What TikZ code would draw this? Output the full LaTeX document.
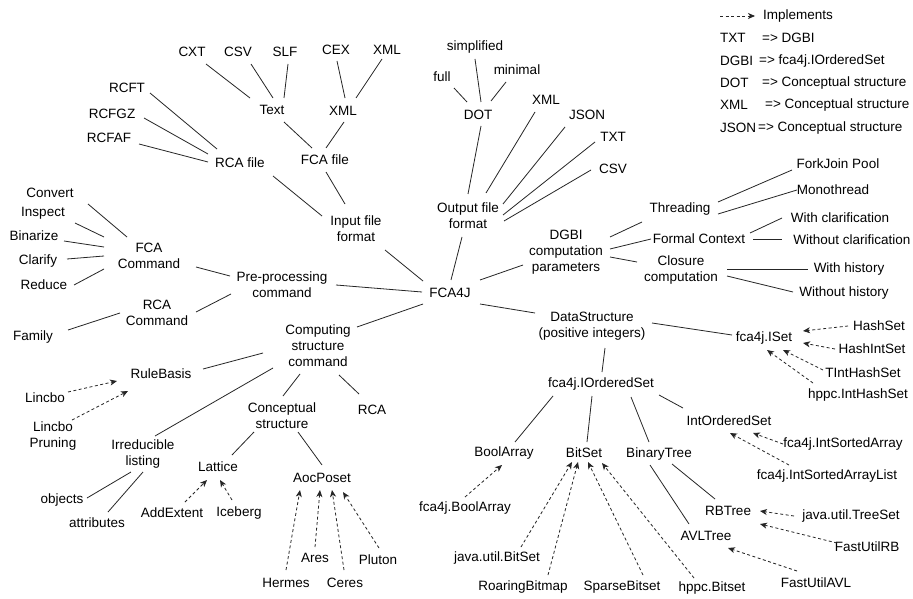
\documentclass[tikz,border=0pt]{standalone}
\usepackage{fontspec}
\setmainfont{Liberation Sans}
\usetikzlibrary{arrows.meta}
\begin{document}
\begin{tikzpicture}[x=1pt,y=-1pt,
  lbl/.style={font=\fontsize{13.5}{16}\selectfont, inner sep=1pt, align=center, text=black},
  ln/.style={line width=0.8pt, draw=black!85},
  impl/.style={line width=0.8pt, draw=black!85, dash pattern=on 3pt off 2.5pt, -{Stealth[length=7pt,width=6pt,inset=2pt]}}]
\useasboundingbox[fill=white] (0,0) rectangle (913,599);

% ---------- legend ----------
\coordinate (legA) at (720,16);
\node[lbl,anchor=west] (legimpl) at (762,16) {Implements};
\node[lbl,anchor=west] (lg1a) at (719,38) {TXT};
\node[lbl,anchor=west] (lg1b) at (761,38) {=> DGBI};
\node[lbl,anchor=west] (lg2a) at (719,61) {DGBI};
\node[lbl,anchor=west] (lg2b) at (758,61) {=> fca4j.IOrderedSet};
\node[lbl,anchor=west] (lg3a) at (719,83) {DOT};
\node[lbl,anchor=west] (lg3b) at (761,83) {=> Conceptual structure};
\node[lbl,anchor=west] (lg4a) at (719,105) {XML};
\node[lbl,anchor=west] (lg4b) at (764,105) {=> Conceptual structure};
\node[lbl,anchor=west] (lg5a) at (719,128) {JSON};
\node[lbl,anchor=west] (lg5b) at (757,128) {=> Conceptual structure};
\draw[impl] (legA) -- ([xshift=-7pt]legimpl.west);

% ---------- input side ----------
\node[lbl] (cxt) at (192,52) {CXT};
\node[lbl] (csv) at (238,52) {CSV};
\node[lbl] (slf) at (285,52) {SLF};
\node[lbl] (cex) at (336,50) {CEX};
\node[lbl] (xmlin) at (387,50) {XML};
\node[lbl] (text) at (272,110) {Text};
\node[lbl] (xmlmid) at (343,111) {XML};
\node[lbl] (rcft) at (127,88) {RCFT};
\node[lbl] (rcfgz) at (112,114) {RCFGZ};
\node[lbl] (rcfaf) at (109,138) {RCFAF};
\node[lbl] (rcafile) at (240,163) {RCA file};
\node[lbl] (fcafile) at (325,160) {FCA file};
\node[lbl] (input) at (356,229) {Input file\\format};

% ---------- output side ----------
\node[lbl] (simplified) at (475,47) {simplified};
\node[lbl] (full) at (442,77) {full};
\node[lbl] (minimal) at (517,70) {minimal};
\node[lbl] (dot) at (478,115) {DOT};
\node[lbl] (xmlout) at (546,100) {XML};
\node[lbl] (json) at (587,115) {JSON};
\node[lbl] (txt) at (613,137) {TXT};
\node[lbl] (csvout) at (613,169) {CSV};
\node[lbl] (output) at (468,216) {Output file\\format};

\node[lbl] (fca4j) at (450,293) {FCA4J};

% ---------- DGBI parameters ----------
\node[lbl] (dgbi) at (566,252) {DGBI\\computation\\parameters};
\node[lbl] (threading) at (680,209) {Threading};
\node[lbl] (formal) at (699,239) {Formal Context};
\node[lbl] (closure) at (681,270) {Closure\\computation};
\node[lbl] (forkjoin) at (838,164) {ForkJoin Pool};
\node[lbl] (mono) at (833,190) {Monothread};
\node[lbl] (withclar) at (840,218) {With clarification};
\node[lbl] (withoutclar) at (852,240) {Without clarification};
\node[lbl] (withhist) at (849,269) {With history};
\node[lbl] (withouthist) at (844,293) {Without history};

% ---------- data structures ----------
\node[lbl] (datastruct) at (592,326) {DataStructure\\(positive integers)};
\node[lbl] (iset) at (764,338) {fca4j.ISet};
\node[lbl] (hashset) at (879,326) {HashSet};
\node[lbl] (hashintset) at (872,349) {HashIntSet};
\node[lbl] (tint) at (863,373) {TIntHashSet};
\node[lbl] (hppcint) at (858,395) {hppc.IntHashSet};
\node[lbl] (iordered) at (601,384) {fca4j.IOrderedSet};
\node[lbl] (intordered) at (729,421) {IntOrderedSet};
\node[lbl] (intsorted) at (843,444) {fca4j.IntSortedArray};
\node[lbl] (intsortedlist) at (827,476) {fca4j.IntSortedArrayList};
\node[lbl] (boolarr) at (504,453) {BoolArray};
\node[lbl] (bitset) at (584,453) {BitSet};
\node[lbl] (binarytree) at (659,454) {BinaryTree};
\node[lbl] (rbtree) at (728,511) {RBTree};
\node[lbl] (treeset) at (851,516) {java.util.TreeSet};
\node[lbl] (fastrb) at (867,547) {FastUtilRB};
\node[lbl] (avl) at (706,536) {AVLTree};
\node[lbl] (fastavl) at (816,583) {FastUtilAVL};
\node[lbl] (fca4jbool) at (465,508) {fca4j.BoolArray};
\node[lbl] (javabitset) at (497,558) {java.util.BitSet};
\node[lbl] (roaring) at (523,587) {RoaringBitmap};
\node[lbl] (sparse) at (622,587) {SparseBitset};
\node[lbl] (hppcbitset) at (712,588) {hppc.Bitset};

% ---------- pre-processing ----------
\node[lbl] (convert) at (50,193) {Convert};
\node[lbl] (inspect) at (43,213) {Inspect};
\node[lbl] (binarize) at (34,236) {Binarize};
\node[lbl] (clarify) at (38,261) {Clarify};
\node[lbl] (reduce) at (44,285) {Reduce};
\node[lbl] (fcacmd) at (149,256) {FCA\\Command};
\node[lbl] (preproc) at (282,285) {Pre-processing\\command};
\node[lbl] (rcacmd) at (157,313) {RCA\\Command};
\node[lbl] (family) at (33,337) {Family};

% ---------- computing ----------
\node[lbl] (computing) at (318,346) {Computing\\structure\\command};
\node[lbl] (rulebasis) at (161,374) {RuleBasis};
\node[lbl] (lincbo) at (45,398) {Lincbo};
\node[lbl] (lincbopr) at (53,436) {Lincbo\\Pruning};
\node[lbl] (irreducible) at (143,454) {Irreducible\\listing};
\node[lbl] (conceptual) at (282,416) {Conceptual\\structure};
\node[lbl] (rca) at (372,410) {RCA};
\node[lbl] (lattice) at (218,467) {Lattice};
\node[lbl] (aocposet) at (322,478) {AocPoset};
\node[lbl] (objects) at (62,500) {objects};
\node[lbl] (attributes) at (97,523) {attributes};
\node[lbl] (addextent) at (172,513) {AddExtent};
\node[lbl] (iceberg) at (239,513) {Iceberg};
\node[lbl] (hermes) at (286,583) {Hermes};
\node[lbl] (ares) at (315,558) {Ares};
\node[lbl] (ceres) at (345,583) {Ceres};
\node[lbl] (pluton) at (378,560) {Pluton};

% ---------- solid connectors ----------
\draw[ln] ([shift={(14,12)}]cxt.center) -- ([shift={(-22,-12)}]text.center);
\draw[ln] ([shift={(13,12)}]csv.center) -- ([shift={(1,-12)}]text.center);
\draw[ln] ([shift={(3,12)}]slf.center) -- ([shift={(12,-12)}]text.center);
\draw[ln] ([shift={(1,11)}]cex.center) -- ([shift={(2,-13)}]xmlmid.center);
\draw[ln] ([shift={(-5,9)}]xmlin.center) -- ([shift={(13,-13)}]xmlmid.center);
\draw[ln] ([shift={(12,12)}]text.center) -- ([shift={(-13,-12)}]fcafile.center);
\draw[ln] ([shift={(1,11)}]xmlmid.center) -- ([shift={(1,-12)}]fcafile.center);
\draw[ln] ([shift={(23,5)}]rcft.center) -- ([shift={(-23,-14)}]rcafile.center);
\draw[ln] ([shift={(32,4)}]rcfgz.center) -- ([shift={(-32,-9)}]rcafile.center);
\draw[ln] ([shift={(30,6)}]rcfaf.center) -- ([shift={(-32,-1)}]rcafile.center);
\draw[ln] ([shift={(33,13)}]rcafile.center) -- ([shift={(-34,-13)}]input.center);
\draw[ln] ([shift={(1,12)}]fcafile.center) -- ([shift={(-11,-25)}]input.center);
\draw[ln] ([shift={(29,21)}]input.center) -- ([shift={(-27,-12)}]fca4j.center);

\draw[ln] ([shift={(12,11)}]full.center) -- ([shift={(-11,-13)}]dot.center);
\draw[ln] ([shift={(0,12)}]simplified.center) -- ([shift={(3,-13)}]dot.center);
\draw[ln] ([shift={(-11,12)}]minimal.center) -- ([shift={(13,-14)}]dot.center);
\draw[ln] ([shift={(3,11)}]dot.center) -- ([shift={(0,-22)}]output.center);
\draw[ln] ([shift={(-11,12)}]xmlout.center) -- ([shift={(18,-23)}]output.center);
\draw[ln] ([shift={(-22,12)}]json.center) -- ([shift={(35,-12)}]output.center);
\draw[ln] ([shift={(-18,5)}]txt.center) -- ([shift={(35,-1)}]output.center);
\draw[ln] ([shift={(-22,1)}]csvout.center) -- ([shift={(36,5)}]output.center);
\draw[ln] ([shift={(-6,21)}]output.center) -- ([shift={(1,-13)}]fca4j.center);

\draw[ln] ([shift={(-43,13)}]dgbi.center) -- ([shift={(30,-13)}]fca4j.center);
\draw[ln] ([shift={(54,0)}]preproc.center) -- ([shift={(-28,-1)}]fca4j.center);
\draw[ln] ([shift={(-27,11)}]fca4j.center) -- ([shift={(39,-19)}]computing.center);
\draw[ln] ([shift={(30,11)}]fca4j.center) -- ([shift={(-57,-13)}]datastruct.center);

\draw[ln] ([shift={(44,-15)}]dgbi.center) -- ([shift={(-38,13)}]threading.center);
\draw[ln] ([shift={(44,-3)}]dgbi.center) -- ([shift={(-48,0)}]formal.center);
\draw[ln] ([shift={(44,5)}]dgbi.center) -- ([shift={(-44,-8)}]closure.center);
\draw[ln] ([shift={(38,-7)}]threading.center) -- ([shift={(-46,6)}]forkjoin.center);
\draw[ln] ([shift={(38,5)}]threading.center) -- ([shift={(-36,0)}]mono.center);
\draw[ln] ([shift={(51,-6)}]formal.center) -- ([shift={(-58,0)}]withclar.center);
\draw[ln] ([shift={(54,0)}]formal.center) -- ([shift={(-70,-1)}]withoutclar.center);
\draw[ln] ([shift={(46,-1)}]closure.center) -- ([shift={(-41,0)}]withhist.center);
\draw[ln] ([shift={(46,6)}]closure.center) -- ([shift={(-51,-1)}]withouthist.center);

\draw[ln] ([shift={(60,-3)}]datastruct.center) -- ([shift={(-32,-3)}]iset.center);
\draw[ln] ([shift={(13,22)}]datastruct.center) -- ([shift={(1,-12)}]iordered.center);
\draw[ln] ([shift={(-48,12)}]iordered.center) -- ([shift={(11,-11)}]boolarr.center);
\draw[ln] ([shift={(-9,12)}]iordered.center) -- ([shift={(3,-11)}]bitset.center);
\draw[ln] ([shift={(30,13)}]iordered.center) -- ([shift={(-10,-12)}]binarytree.center);
\draw[ln] ([shift={(58,11)}]iordered.center) -- ([shift={(-46,-13)}]intordered.center);
\draw[ln] ([shift={(13,10)}]binarytree.center) -- ([shift={(-13,-12)}]rbtree.center);
\draw[ln] ([shift={(-9,11)}]binarytree.center) -- ([shift={(-17,-12)}]avl.center);

\draw[ln] ([shift={(-55,7)}]computing.center) -- ([shift={(42,-5)}]rulebasis.center);
\draw[ln] ([shift={(-45,22)}]computing.center) -- ([shift={(12,-18)}]irreducible.center);
\draw[ln] ([shift={(-18,28)}]computing.center) -- ([shift={(1,-20)}]conceptual.center);
\draw[ln] ([shift={(21,29)}]computing.center) -- ([shift={(-13,-16)}]rca.center);
\draw[ln] ([shift={(-28,16)}]conceptual.center) -- ([shift={(14,-12)}]lattice.center);
\draw[ln] ([shift={(16,16)}]conceptual.center) -- ([shift={(0,-13)}]aocposet.center);
\draw[ln] ([shift={(-12,18)}]irreducible.center) -- ([shift={(25,-2)}]objects.center);
\draw[ln] ([shift={(0,18)}]irreducible.center) -- ([shift={(11,-11)}]attributes.center);

\draw[ln] ([shift={(47,11)}]fcacmd.center) -- ([shift={(-52,-9)}]preproc.center);
\draw[ln] ([shift={(39,-1)}]rcacmd.center) -- ([shift={(-51,9)}]preproc.center);
\draw[ln] ([shift={(35,-7)}]family.center) -- ([shift={(-37,0)}]rcacmd.center);
\draw[ln] ([shift={(38,11)}]convert.center) -- ([shift={(-22,-19)}]fcacmd.center);
\draw[ln] ([shift={(32,10)}]inspect.center) -- ([shift={(-45,-19)}]fcacmd.center);
\draw[ln] ([shift={(30,5)}]binarize.center) -- ([shift={(-45,-9)}]fcacmd.center);
\draw[ln] ([shift={(29,-2)}]clarify.center) -- ([shift={(-45,0)}]fcacmd.center);
\draw[ln] ([shift={(30,0)}]reduce.center) -- ([shift={(-45,13)}]fcacmd.center);

% ---------- implements (dashed) ----------
\draw[impl] ([shift={(23,-6)}]lincbo.center) -- ([shift={(-44,7)}]rulebasis.center);
\draw[impl] ([shift={(19,-16)}]lincbopr.center) -- ([shift={(-33,17)}]rulebasis.center);
\draw[impl] ([shift={(13,-11)}]addextent.center) -- ([shift={(-11,13)}]lattice.center);
\draw[impl] ([shift={(-7,-13)}]iceberg.center) -- ([shift={(2,13)}]lattice.center);
\draw[impl] ([shift={(0,-13)}]hermes.center) -- ([shift={(-22,12)}]aocposet.center);
\draw[impl] ([shift={(0,-11)}]ares.center) -- ([shift={(-2,12)}]aocposet.center);
\draw[impl] ([shift={(-1,-13)}]ceres.center) -- ([shift={(10,12)}]aocposet.center);
\draw[impl] ([shift={(1,-12)}]pluton.center) -- ([shift={(21,14)}]aocposet.center);
\draw[impl] ([shift={(0,-11)}]fca4jbool.center) -- ([shift={(-2,12)}]boolarr.center);
\draw[impl] ([shift={(24,-11)}]javabitset.center) -- ([shift={(-12,9)}]bitset.center);
\draw[impl] ([shift={(25,-12)}]roaring.center) -- ([shift={(-6,9)}]bitset.center);
\draw[impl] ([shift={(21,-12)}]sparse.center) -- ([shift={(4,9)}]bitset.center);
\draw[impl] ([shift={(-18,-10)}]hppcbitset.center) -- ([shift={(18,10)}]bitset.center);
\draw[impl] ([shift={(-31,0)}]hashset.center) -- ([shift={(39,-7)}]iset.center);
\draw[impl] ([shift={(-37,0)}]hashintset.center) -- ([shift={(39,5)}]iset.center);
\draw[impl] ([shift={(-40,-3)}]tint.center) -- ([shift={(19,12)}]iset.center);
\draw[impl] ([shift={(-45,-12)}]hppcint.center) -- ([shift={(3,12)}]iset.center);
\draw[impl] ([shift={(-60,0)}]intsorted.center) -- ([shift={(24,12)}]intordered.center);
\draw[impl] ([shift={(-38,-11)}]intsortedlist.center) -- ([shift={(1,12)}]intordered.center);
\draw[impl] ([shift={(-57,0)}]treeset.center) -- ([shift={(32,0)}]rbtree.center);
\draw[impl] ([shift={(-30,-4)}]fastrb.center) -- ([shift={(32,13)}]rbtree.center);
\draw[impl] ([shift={(-19,-12)}]fastavl.center) -- ([shift={(22,12)}]avl.center);
\end{tikzpicture}
\end{document}
